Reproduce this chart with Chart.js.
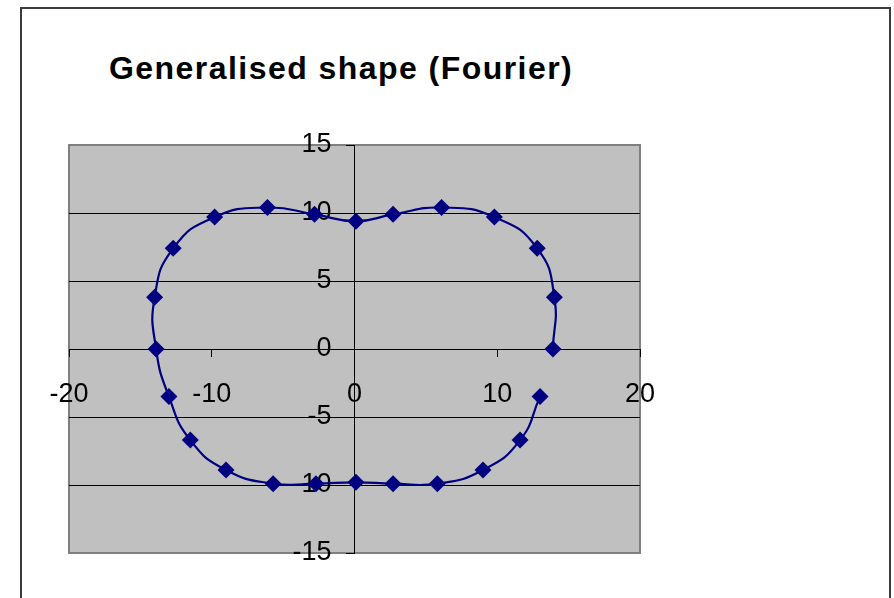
<!DOCTYPE html>
<html>
<head>
<meta charset="utf-8">
<script src="https://cdn.jsdelivr.net/npm/chart.js@4/dist/chart.umd.min.js"></script>
<style>
  body { margin: 0; background: #fff; }
  #frame {
    position: absolute; left: 20px; top: 7px; width: 867px; height: 620px;
    border: 2px solid #3a3a3a;
  }
  #title {
    position: absolute; left: 109px; top: 52px;
    font: bold 32px "Liberation Sans", Arial, sans-serif; line-height: 1;
    letter-spacing: 1.45px; color: #000; white-space: nowrap;
  }
  #wrap { position: absolute; left: 0; top: 0; width: 894px; height: 598px; }
</style>
</head>
<body>
<div id="frame"></div>
<div id="title">Generalised shape (Fourier)</div>
<div id="wrap"><canvas id="canvas"></canvas></div>
<script>
// points, going round from the right-hand side
const xValues = [13.9, 14.0, 12.8, 9.8, 6.1, 2.7, 0.1, -2.8, -6.1, -9.8, -12.7, -14.0,
  -13.9, -13.0, -11.5, -9.0, -5.7, -2.7, 0.1, 2.7, 5.8, 9.0, 11.6, 13.0];
const yValues = [0, 3.8, 7.4, 9.7, 10.4, 9.9, 9.4, 9.9, 10.4, 9.7, 7.4, 3.8,
  0, -3.5, -6.7, -8.9, -9.9, -9.9, -9.8, -9.9, -9.9, -8.9, -6.7, -3.5];
const xRange = [-20, 20];
const yRange = [-15, 15];

const points = xValues.map((x, i) => ({ x: x, y: yValues[i] }));

// grey plot area with its frame, drawn before the axes so labels sit on top
const plotBg = {
  id: 'plotBg',
  beforeDraw(chart) {
    const a = chart.chartArea, c = chart.ctx;
    c.save();
    c.fillStyle = '#c0c0c0';
    c.fillRect(a.left, a.top, a.right - a.left, a.bottom - a.top);
    c.strokeStyle = '#808080';
    c.lineWidth = 2;
    c.strokeRect(a.left, a.top, a.right - a.left, a.bottom - a.top);
    c.restore();
  }
};

const tickFont = { family: '"Liberation Sans", Arial, sans-serif', size: 27 };
const fmt = v => (v < 0 ? '-' : '') + Math.abs(v);

new Chart(document.getElementById('canvas'), {
  type: 'scatter',
  data: {
    datasets: [{
      data: points,
      showLine: true,
      borderColor: '#000080',
      borderWidth: 2.2,
      backgroundColor: '#000080',
      pointStyle: 'rectRot',
      pointRadius: 8.5,
      pointBorderWidth: 0,
      tension: 0.5,
      clip: false
    }]
  },
  options: {
    responsive: true,
    maintainAspectRatio: false,
    animation: false,
    layout: { padding: { left: 69, top: 145, right: 254, bottom: 45 } },
    plugins: { legend: { display: false }, tooltip: { enabled: false } },
    scales: {
      x: {
        type: 'linear',
        position: 'center',
        min: xRange[0], max: xRange[1],
        ticks: { stepSize: 10, color: '#000', font: tickFont, padding: 22,
          autoSkip: false, maxRotation: 0, callback: fmt },
        grid: { drawOnChartArea: false, drawTicks: true, tickLength: 7, tickColor: '#000' },
        border: { color: '#000', width: 1 }
      },
      y: {
        type: 'linear',
        position: 'center',
        min: yRange[0], max: yRange[1],
        ticks: { stepSize: 5, color: '#000', font: tickFont, padding: 15, autoSkip: false,
          callback: fmt },
        grid: {
          color: ctx => (ctx.tick && Math.abs(ctx.tick.value) === 15) ? 'rgba(0,0,0,0)' : '#000',
          tickColor: '#000', tickLength: 8, lineWidth: 1
        },
        border: { color: '#000', width: 1 }
      }
    }
  },
  plugins: [plotBg]
});
</script>
</body>
</html>
